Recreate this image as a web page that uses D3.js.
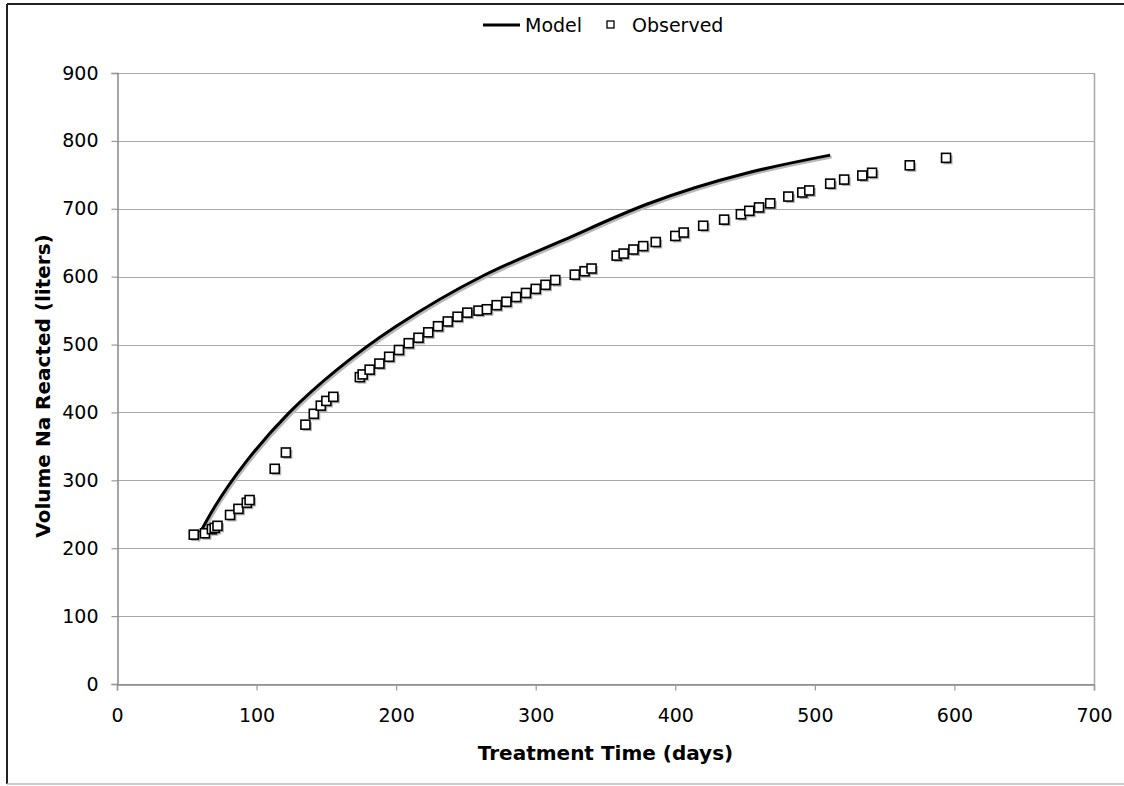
<!DOCTYPE html>
<html>
<head>
<meta charset="utf-8">
<script src="https://cdn.jsdelivr.net/npm/d3@7"></script>
<style>
  body { margin: 0; background: #fff; }
  text { font-family: "DejaVu Sans", Verdana, sans-serif; fill: #000; }
</style>
</head>
<body>
<div id="chart"></div>
<script>
// Observed data (days, liters)
const obsDays = [55, 63, 68, 70, 72, 81, 87, 93, 95, 113, 121, 135, 141, 146, 150, 155,
  174, 176, 181, 188, 195, 202, 209, 216, 223, 230, 237, 244, 251, 259, 265, 272, 279,
  286, 293, 300, 307, 314, 328, 335, 340, 358, 363, 370, 377, 386, 400, 406, 420, 435,
  447, 453, 460, 468, 481, 491, 496, 511, 521, 534, 541, 568, 594];
const obsVolume = [220, 222, 228, 230, 233, 249, 258, 267, 271, 317, 341, 382, 398, 410, 417, 423,
  452, 456, 463, 472, 482, 492, 502, 510, 518, 527, 534, 541, 547, 550, 552, 558, 563,
  570, 576, 582, 588, 595, 603, 608, 612, 631, 634, 640, 645, 651, 660, 665, 675, 684,
  692, 697, 702, 708, 718, 724, 727, 737, 743, 749, 753, 764, 775];

// Model curve
const modelDays = [57, 70, 92, 123, 157, 200, 262, 319, 380, 450, 511];
const modelVolume = [213, 261, 326, 399, 462, 527, 601, 653, 707, 752, 779];

const xTicks = [0, 100, 200, 300, 400, 500, 600, 700];
const yTicks = [0, 100, 200, 300, 400, 500, 600, 700, 800, 900];

const width = 1124;
const height = 786;
const margin = {left: 117, right: 30, top: 73, bottom: 102};

const svg = d3.select("#chart")
  .append("svg")
  .attr("width", width)
  .attr("height", height);

// outer frame
svg.append("line").attr("x1", 7).attr("x2", width).attr("y1", 4).attr("y2", 4)
  .attr("stroke", "#222").attr("stroke-width", 2);
svg.append("line").attr("x1", 7).attr("x2", 7).attr("y1", 4).attr("y2", 784)
  .attr("stroke", "#222").attr("stroke-width", 2);
svg.append("line").attr("x1", 7).attr("x2", width).attr("y1", 784).attr("y2", 784)
  .attr("stroke", "#bbb").attr("stroke-width", 1.5);

const x = d3.scaleLinear().domain([0, 700]).range([margin.left, width - margin.right]);
const y = d3.scaleLinear().domain([0, 900]).range([height - margin.bottom, margin.top]);

// gridlines
svg.append("g")
  .selectAll("line")
  .data(yTicks)
  .enter().append("line")
    .attr("x1", x(0))
    .attr("x2", x(700))
    .attr("y1", d => Math.round(y(d)) + 0.5)
    .attr("y2", d => Math.round(y(d)) + 0.5)
    .attr("stroke", "#a8a8a8")
    .attr("stroke-width", 1.2);

// right border of plot
svg.append("line")
  .attr("x1", Math.round(x(700)) + 0.5).attr("x2", Math.round(x(700)) + 0.5)
  .attr("y1", y(900)).attr("y2", y(0))
  .attr("stroke", "#a8a8a8").attr("stroke-width", 1.5);

// axes
const xAxis = svg.append("g")
  .attr("transform", `translate(0,${Math.round(y(0)) + 0.5})`)
  .call(d3.axisBottom(x).tickValues(xTicks).tickSize(6).tickPadding(18));
const yAxis = svg.append("g")
  .attr("transform", `translate(${Math.round(x(0)) + 0.5},0)`)
  .call(d3.axisLeft(y).tickValues(yTicks).tickSize(6).tickPadding(13));

[xAxis, yAxis].forEach(g => {
  g.select(".domain").attr("stroke", "#888").attr("stroke-width", 1.5);
  g.selectAll(".tick line").attr("stroke", "#999").attr("stroke-width", 1.2);
  g.selectAll(".tick text")
    .style("font-family", '"DejaVu Sans", Verdana, sans-serif')
    .style("font-size", "19px")
    .attr("fill", "#000");
});

// axis titles
svg.append("text")
  .attr("x", (x(0) + x(700)) / 2)
  .attr("y", 760)
  .attr("text-anchor", "middle")
  .style("font-size", "20px")
  .style("font-weight", "bold")
  .text("Treatment Time (days)");

svg.append("text")
  .attr("transform", `translate(50,386) rotate(-90)`)
  .attr("text-anchor", "middle")
  .style("font-size", "20px")
  .style("font-weight", "bold")
  .text("Volume Na Reacted (liters)");

// model line with shadow
const modelData = modelDays.map((d, i) => [d, modelVolume[i]]);
const line = d3.line()
  .x(d => x(d[0]))
  .y(d => y(d[1]))
  .curve(d3.curveNatural);

svg.append("path")
  .datum(modelData)
  .attr("d", line)
  .attr("transform", "translate(1.5,2)")
  .attr("fill", "none")
  .attr("stroke", "#b8b8b8")
  .attr("stroke-width", 3);

svg.append("path")
  .datum(modelData)
  .attr("d", line)
  .attr("fill", "none")
  .attr("stroke", "#000")
  .attr("stroke-width", 3);

// observed markers with shadow
const obsData = obsDays.map((d, i) => [d, obsVolume[i]]);
const sz = 9;

svg.append("g")
  .selectAll("rect")
  .data(obsData)
  .enter().append("rect")
    .attr("x", d => x(d[0]) - sz / 2 + 2)
    .attr("y", d => y(d[1]) - sz / 2 + 2)
    .attr("width", sz)
    .attr("height", sz)
    .attr("fill", "#b0b0b0");

svg.append("g")
  .selectAll("rect")
  .data(obsData)
  .enter().append("rect")
    .attr("x", d => x(d[0]) - sz / 2)
    .attr("y", d => y(d[1]) - sz / 2)
    .attr("width", sz)
    .attr("height", sz)
    .attr("fill", "#fff")
    .attr("stroke", "#000")
    .attr("stroke-width", 1.6);

// legend
const legend = svg.append("g");
legend.append("line")
  .attr("x1", 483).attr("x2", 520)
  .attr("y1", 25).attr("y2", 25)
  .attr("stroke", "#000").attr("stroke-width", 3);
legend.append("text")
  .attr("x", 525).attr("y", 32)
  .style("font-size", "19px")
  .text("Model");
legend.append("rect")
  .attr("x", 607).attr("y", 21)
  .attr("width", 7).attr("height", 7)
  .attr("fill", "#fff")
  .attr("stroke", "#000").attr("stroke-width", 1.3);
legend.append("text")
  .attr("x", 632).attr("y", 32)
  .style("font-size", "19px")
  .text("Observed");
</script>
</body>
</html>
